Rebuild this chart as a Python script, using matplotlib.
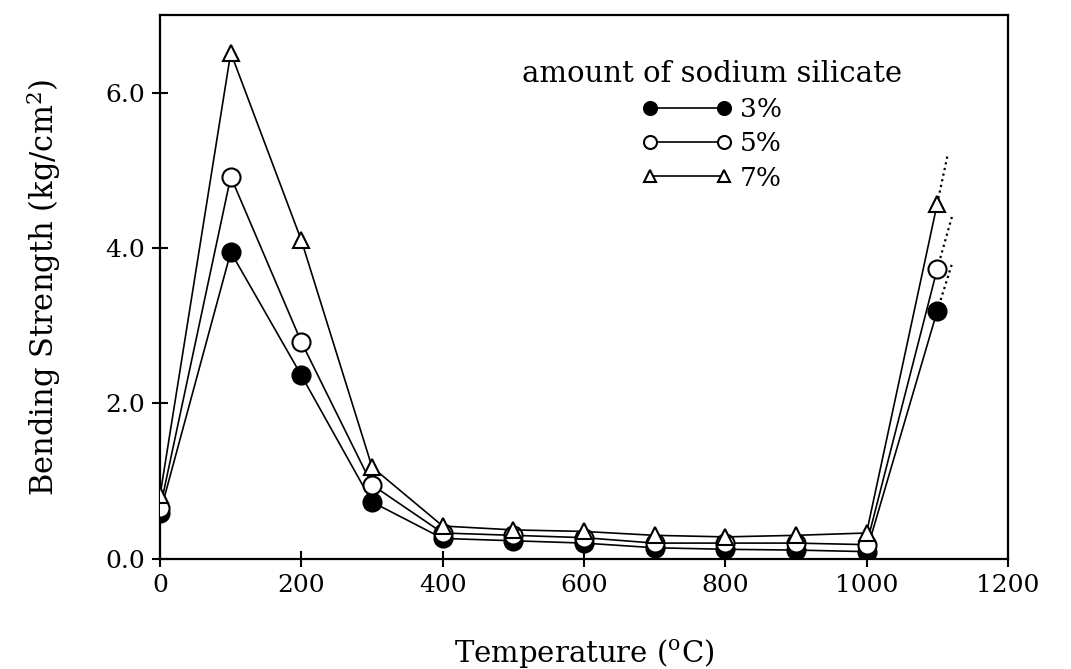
import matplotlib
matplotlib.use("Agg")
import matplotlib.pyplot as plt

# bending strength vs firing temperature for three binder contents
temps = [0, 100, 200, 300, 400, 500, 600, 700, 800, 900, 1000, 1100]
s3 = [0.59, 3.95, 2.36, 0.73, 0.26, 0.23, 0.20, 0.14, 0.12, 0.11, 0.09, 3.19]
s5 = [0.65, 4.92, 2.79, 0.95, 0.33, 0.30, 0.27, 0.20, 0.20, 0.20, 0.18, 3.73]
s7 = [0.82, 6.52, 4.10, 1.18, 0.42, 0.37, 0.35, 0.30, 0.28, 0.30, 0.33, 4.57]

# dotted extrapolation past the last firing temperature
ext_x = [1121, 1122, 1115]
ext_y = [3.80, 4.44, 5.21]

labels = ["3%", "5%", "7%"]

plt.rcParams["font.family"] = "DejaVu Serif"
plt.rcParams["mathtext.fontset"] = "dejavuserif"

fig = plt.figure(figsize=(10.71, 6.69), dpi=100)
ax = fig.add_axes([0.1495, 0.165, 0.7915, 0.812])

styles = [
    dict(marker="o", mfc="black", mec="black", ms=13),
    dict(marker="o", mfc="white", mec="black", ms=13),
    dict(marker="^", mfc="white", mec="black", ms=12),
]

series = [s3, s5, s7]
for vals, st, lab, ex, ey in zip(series, styles, labels, ext_x, ext_y):
    ax.plot([temps[-1], ex], [vals[-1], ey], color="black", lw=1.6,
            ls=(0, (1, 1.6)), zorder=2)
    ax.plot(temps, vals, color="black", lw=1.2, mew=1.5,
            label=lab, zorder=3, **st)

ax.set_xlim(0, 1200)
ax.set_ylim(0, 7.0)
ax.set_xticks([0, 200, 400, 600, 800, 1000, 1200])
ax.set_yticks([0, 2, 4, 6])
ax.set_yticklabels(["0.0", "2.0", "4.0", "6.0"])
ax.tick_params(direction="inout", length=12, width=1.5, labelsize=18,
               top=False, right=False, pad=5)

for sp in ax.spines.values():
    sp.set_linewidth(1.6)

ax.set_xlabel("Temperature ($^{\\mathrm{o}}$C)", fontsize=21, labelpad=29)
ax.set_ylabel("Bending Strength (kg/cm$^2$)", fontsize=22, labelpad=30)

leg = ax.legend(title="amount of sodium silicate", numpoints=2,
                frameon=False, loc="upper center",
                bbox_to_anchor=(0.651, 0.952), fontsize=19,
                title_fontsize=21, handlelength=3.4, handletextpad=0.3,
                labelspacing=0.35, markerscale=0.72, borderpad=0.2)

fig.savefig("out.png", dpi=100)
